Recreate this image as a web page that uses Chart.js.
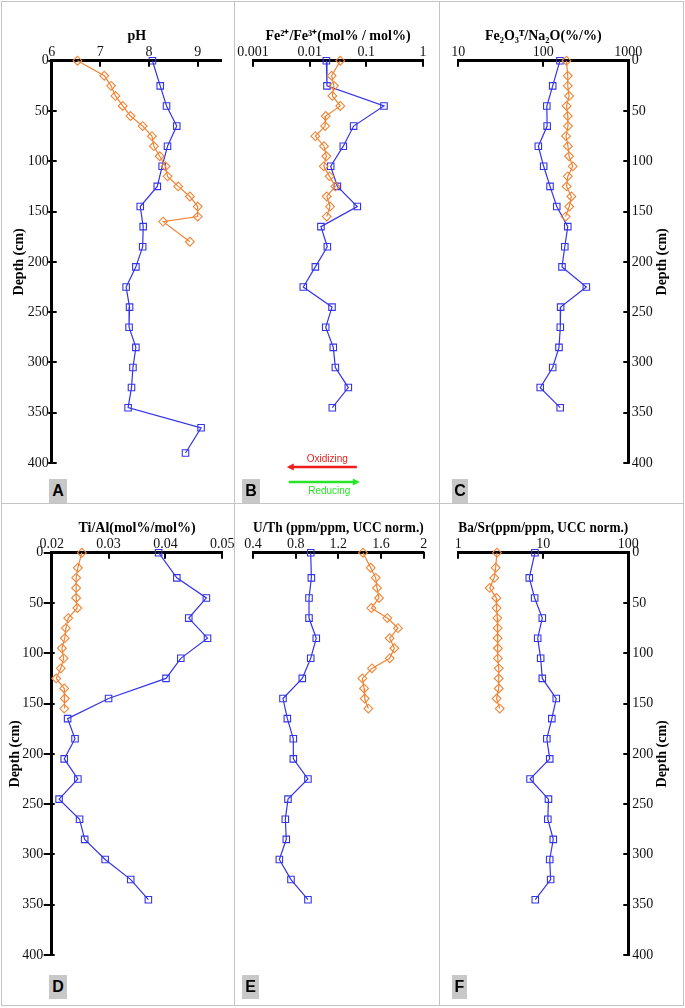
<!DOCTYPE html>
<html><head><meta charset="utf-8">
<script src="https://cdn.jsdelivr.net/npm/chart.js@4.4.0/dist/chart.umd.min.js"></script>
<style>
html,body{margin:0;padding:0;background:#fff;}
#wrap{position:relative;width:685px;height:1008px;overflow:hidden;background:#fff;}
canvas{position:absolute;left:0;top:0;}
.ln{position:absolute;background:#c4c4c4;}
.lab{position:absolute;background:#c8c8c8;font:bold 16px "Liberation Sans",Arial,sans-serif;color:#000;text-align:center;line-height:24px;height:24px;}
</style></head>
<body><div id="wrap">
<div class="ln" style="left:1px;top:1px;width:683px;height:1px"></div>
<div class="ln" style="left:1px;top:1005px;width:683px;height:1px"></div>
<div class="ln" style="left:1px;top:503px;width:683px;height:1px"></div>
<div class="ln" style="left:1px;top:1px;width:1px;height:1005px"></div>
<div class="ln" style="left:683px;top:1px;width:1px;height:1005px"></div>
<div class="ln" style="left:234px;top:1px;width:1px;height:1005px"></div>
<div class="ln" style="left:439px;top:1px;width:1px;height:1005px"></div>
<canvas id="cA" width="685" height="1008"></canvas>
<canvas id="cB" width="685" height="1008"></canvas>
<canvas id="cC" width="685" height="1008"></canvas>
<canvas id="cD" width="685" height="1008"></canvas>
<canvas id="cE" width="685" height="1008"></canvas>
<canvas id="cF" width="685" height="1008"></canvas>
<div class="lab" style="left:49px;top:479px;width:18px;">A</div>
<div class="lab" style="left:242px;top:479px;width:18px;">B</div>
<div class="lab" style="left:452px;top:479px;width:16px;">C</div>
<div class="lab" style="left:49px;top:975px;width:18px;">D</div>
<div class="lab" style="left:242px;top:975px;width:17px;">E</div>
<div class="lab" style="left:452px;top:975px;width:15px;">F</div>
</div>
<script>
// ---- data ----
const depthTicks = [0,50,100,150,200,250,300,350,400];
const blueDepthA = [0,25,45,65,85,105,125,145,165,185,205,225,245,265,285,305,325,345,365,390];
const orangeDepthA = [0,15,25,35,45,55,65,75,85,95,105,115,125,135,145,155,160,180];
const blueDepth = [0,25,45,65,85,105,125,145,165,185,205,225,245,265,285,305,325,345];
const orangeDepth = [0,15,25,35,45,55,65,75,85,95,105,115,125,135,145,155];

const phTicks = [6,7,8,9];
const phBlue = [8.07,8.23,8.36,8.57,8.38,8.27,8.17,7.82,7.88,7.87,7.73,7.53,7.60,7.59,7.73,7.67,7.64,7.57,9.07,8.75];
const phOrange = [6.53,7.08,7.22,7.31,7.46,7.62,7.87,8.06,8.10,8.22,8.34,8.38,8.60,8.84,9.0,9.0,8.29,8.84];

const feTicks = [0.001,0.01,0.1,1];
const feBlue = [0.0197,0.0202,0.205,0.0597,0.0392,0.0235,0.0308,0.0693,0.0158,0.0205,0.0126,0.00772,0.0248,0.0192,0.0261,0.0284,0.0481,0.0251];
const feOrange = [0.0347,0.0244,0.0268,0.0251,0.0347,0.0192,0.0187,0.0126,0.0179,0.0197,0.0177,0.0225,0.0284,0.0200,0.0229,0.0200];

const naTicks = [10,100,1000];
const naBlue = [157,129,110,111,87.4,101,120,144,194,179,166,321,160,158.5,153,129,92,158];
const naOrange = [187,194,194,201,188,194,195,185,195,201,222,194,188,214,202,183];

const tiTicks = [0.02,0.03,0.04,0.05];
const tiBlue = [0.0388,0.0420,0.0472,0.0441,0.0474,0.0427,0.0401,0.0300,0.0228,0.0241,0.0222,0.0246,0.0213,0.0249,0.0258,0.0294,0.0339,0.0370];
const tiOrange = [0.0253,0.0246,0.0243,0.0243,0.0243,0.0245,0.0229,0.0225,0.0223,0.0218,0.0221,0.0216,0.0208,0.0222,0.0223,0.0222];

const uTicks = [0.4,0.8,1.2,1.6,2];
const uBlue = [0.941,0.947,0.925,0.925,0.993,0.941,0.862,0.681,0.722,0.778,0.778,0.915,0.728,0.703,0.712,0.647,0.756,0.915];
const uOrange = [1.431,1.503,1.55,1.562,1.581,1.509,1.659,1.759,1.681,1.725,1.681,1.515,1.425,1.441,1.447,1.481];

const baTicks = [1,10,100];
const baBlue = [7.98,6.84,7.91,9.73,8.59,9.31,9.73,14.2,12.6,11.0,11.9,6.98,11.5,11.3,13.1,11.9,12.2,8.05];
const baOrange = [2.85,2.75,2.65,2.34,2.80,2.82,2.88,2.9,2.9,2.92,2.92,2.99,2.99,2.99,2.82,3.07];

// ---- style ----
Chart.defaults.font.family = '"Liberation Serif","Times New Roman",serif';
Chart.defaults.color = '#111';
Chart.defaults.animation = false;
const BLUE = 'rgb(52,52,232)', ORANGE = 'rgb(240,132,52)';
const SERIF = '"Liberation Serif","Times New Roman",serif';
const W = 685, H = 1008;

function pts(xs, ys){ return xs.map((v,i)=>({x:v, y:ys[i]})); }
function ds(xs, ys, color, style){
  return {data: pts(xs,ys), showLine:true, borderColor:color, backgroundColor:'rgba(255,255,255,0)',
    borderWidth:1.2, pointStyle:style, pointRadius: style==='rect'?4.6:4.4, pointBorderWidth:1.1, clip:false};
}

const tickMarks = {
  id:'tickMarks',
  afterDraw(chart, args, o){
    const {ctx, chartArea:a} = chart;
    ctx.save(); ctx.strokeStyle='#000'; ctx.lineWidth=2;
    const xs = chart.scales.x;
    xs.ticks.forEach(t=>{ const p = Math.round(xs.getPixelForValue(t.value));
      ctx.beginPath(); ctx.moveTo(p, a.top-1); ctx.lineTo(p, a.top+6); ctx.stroke(); });
    const ys = chart.scales.y;
    if (ys.options.display) {
      const left = ys.position==='left';
      const edge = left ? a.left : a.right;
      const s = left ? 1 : -1;
      ys.ticks.forEach(t=>{ const p = Math.round(ys.getPixelForValue(t.value));
        ctx.beginPath(); ctx.moveTo(edge - s*o.yOut, p); ctx.lineTo(edge + s*o.yIn, p); ctx.stroke(); });
    }
    ctx.restore();
  }
};

const extras = {
  id:'extras',
  afterDraw(chart, args, o){
    const {ctx, chartArea:a} = chart;
    ctx.save();
    if (o.rightTitle) {
      ctx.translate(o.rightTitle, (a.top+a.bottom)/2);
      ctx.rotate(-Math.PI/2);
      ctx.font = 'bold 14px '+SERIF; ctx.fillStyle='#000';
      ctx.textAlign='center'; ctx.textBaseline='middle';
      ctx.fillText('Depth (cm)', 0, 0);
      ctx.setTransform(1,0,0,1,0,0);
    }
    if (o.arrows) {
      const xs = chart.scales.x;
      const x1 = xs.getPixelForValue(o.arrows[0]), x2 = xs.getPixelForValue(o.arrows[1]);
      const yR = a.bottom + 4, yG = a.bottom + 19;
      ctx.lineWidth = 2.6;
      // red (oxidizing) pointing left
      ctx.strokeStyle = ctx.fillStyle = 'rgb(238,28,28)';
      ctx.beginPath(); ctx.moveTo(x1+4, yR); ctx.lineTo(x2, yR); ctx.stroke();
      ctx.beginPath(); ctx.moveTo(x1-1, yR); ctx.lineTo(x1+6, yR-3.5); ctx.lineTo(x1+6, yR+3.5); ctx.closePath(); ctx.fill();
      ctx.font = '10px "Liberation Sans",Arial,sans-serif'; ctx.textAlign='center'; ctx.textBaseline='middle';
      ctx.fillText('Oxidizing', (x1+x2)/2 + 5, yR - 8);
      // green (reducing) pointing right
      ctx.strokeStyle = ctx.fillStyle = 'rgb(40,228,40)';
      ctx.beginPath(); ctx.moveTo(x1+1, yG); ctx.lineTo(x2-2, yG); ctx.stroke();
      ctx.beginPath(); ctx.moveTo(x2+3, yG); ctx.lineTo(x2-4, yG-3.5); ctx.lineTo(x2-4, yG+3.5); ctx.closePath(); ctx.fill();
      ctx.fillText('Reducing', (x1+x2)/2 + 7, yG + 9);
    }
    ctx.restore();
  }
};

function panel(id, p){
  const xBoxH = 32.9;
  const padTop = p.top - xBoxH;
  let padLeft, padRight, yDisplay = p.yPos !== 'none', yBoxW = 0;
  if (p.yPos === 'left') { padLeft = p.yTitleX - 8.4; yBoxW = p.left - padLeft; padRight = W - p.right; }
  else if (p.yPos === 'right') { padLeft = p.left; yBoxW = 40; padRight = W - p.right - yBoxW; }
  else { padLeft = p.left; padRight = W - p.right; }
  return new Chart(document.getElementById(id), {
    type:'scatter',
    data:{ datasets:[ ds(p.ox, p.oy, ORANGE, 'rectRot'), ds(p.bx, p.by, BLUE, 'rect') ] },
    plugins:[tickMarks, extras],
    options:{
      responsive:false, animation:false, events:[],
      layout:{ padding:{ left:padLeft, right:padRight, top:padTop, bottom:H - p.bottom } },
      plugins:{ legend:{display:false}, tooltip:{enabled:false},
        tickMarks:{ yOut:p.yOut||3.5, yIn:p.yIn||5 },
        extras:{ rightTitle: p.yPos==='right' ? 662 : null, arrows: p.arrows || null } },
      scales:{
        x:{ type:p.xType, position:'top', min:p.xMin, max:p.xMax,
          afterBuildTicks: s=>{ s.ticks = p.xTicks.map(v=>({value:v})); },
          afterFit: s=>{ s.height = xBoxH; },
          grid:{ display:false, drawTicks:false },
          border:{ display:true, color:'#000', width:3 },
          ticks:{ padding:0, maxRotation:0, autoSkip:false, color:'#111', font:{size:14, family:SERIF},
            callback: v=>String(v) },
          title:{ display:true, text:p.title, color:'#000', padding:0, font:{size:14, weight:'bold', family:SERIF} } },
        y:{ type:'linear', display:yDisplay, position: p.yPos==='right' ? 'right' : 'left', reverse:true, min:0, max:400,
          afterBuildTicks: s=>{ s.ticks = depthTicks.map(v=>({value:v})); },
          afterFit: s=>{ s.width = yBoxW; },
          grid:{ display:false, drawTicks:false },
          border:{ display:true, color:'#000', width:3 },
          ticks:{ padding:p.yPad||3, autoSkip:false, color:'#111', font:{size:14, family:SERIF}, callback:v=>String(v) },
          title:{ display: p.yPos==='left', text:'Depth (cm)', color:'#000', padding:0, font:{size:14, weight:'bold', family:SERIF} } }
      }
    }
  });
}

panel('cA', { left:51.7, right:222.0, top:60.7, bottom:463, xType:'linear', xMin:6, xMax:9.5, xTicks:phTicks,
  title:'pH', yPos:'left', yTitleX:19.5, yPad:3, yOut:3.5, yIn:5,
  bx:phBlue, by:blueDepthA, ox:phOrange, oy:orangeDepthA });
panel('cB', { left:253, right:423, top:60.7, bottom:463, xType:'logarithmic', xMin:0.001, xMax:1, xTicks:feTicks,
  title:'Fe²⁺/Fe³⁺(mol% / mol%)', yPos:'none', arrows:[0.0041, 0.068],
  bx:feBlue, by:blueDepth, ox:feOrange, oy:orangeDepth });
panel('cC', { left:458.3, right:628.3, top:60.7, bottom:463, xType:'logarithmic', xMin:10, xMax:1000, xTicks:naTicks,
  title:'Fe₂O₃ᵀ/Na₂O(%/%)', yPos:'right', yPad:3.5, yOut:1.5, yIn:5,
  bx:naBlue, by:blueDepth, ox:naOrange, oy:orangeDepth });
panel('cD', { left:51.7, right:222.3, top:552.7, bottom:955, xType:'linear', xMin:0.02, xMax:0.05, xTicks:tiTicks,
  title:'Ti/Al(mol%/mol%)', yPos:'left', yTitleX:15.3, yPad:8.4, yOut:8, yIn:3,
  bx:tiBlue, by:blueDepth, ox:tiOrange, oy:orangeDepth });
panel('cE', { left:253, right:423.7, top:552.7, bottom:955, xType:'linear', xMin:0.4, xMax:2, xTicks:uTicks,
  title:'U/Th (ppm/ppm, UCC norm.)', yPos:'none',
  bx:uBlue, by:blueDepth, ox:uOrange, oy:orangeDepth });
panel('cF', { left:458.3, right:628.3, top:552.7, bottom:955, xType:'logarithmic', xMin:1, xMax:100, xTicks:baTicks,
  title:'Ba/Sr(ppm/ppm, UCC norm.)', yPos:'right', yPad:4, yOut:1.5, yIn:5,
  bx:baBlue, by:blueDepth, ox:baOrange, oy:orangeDepth });
</script>
</body></html>
